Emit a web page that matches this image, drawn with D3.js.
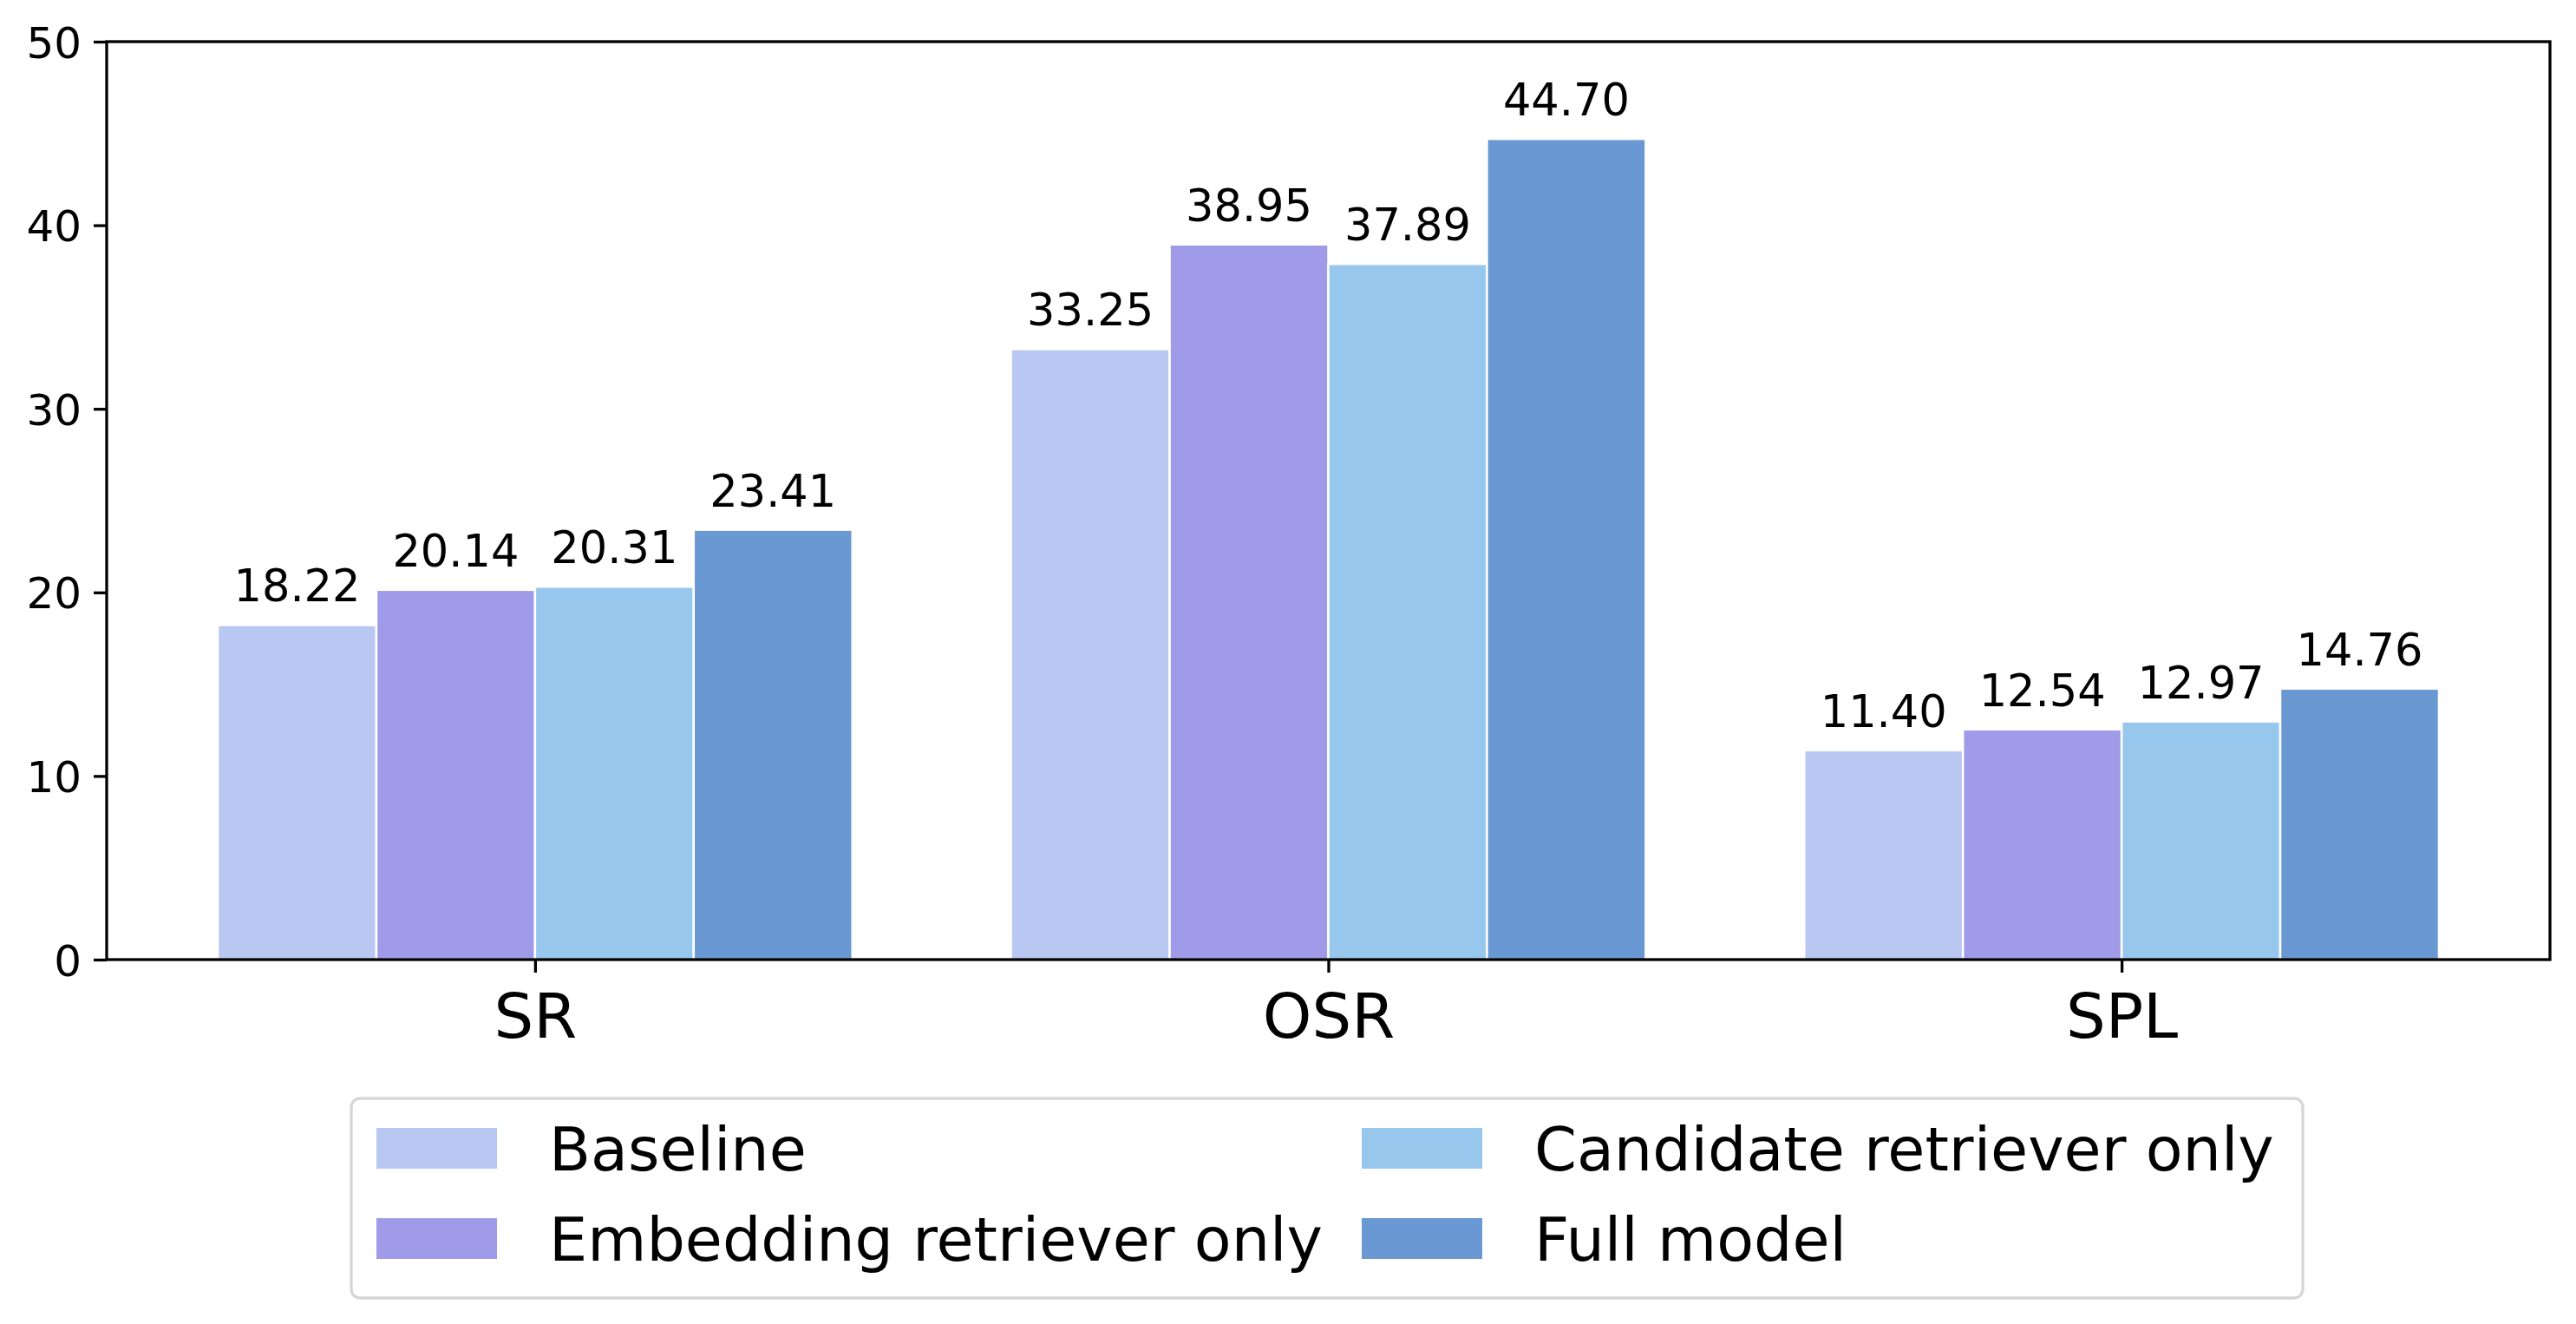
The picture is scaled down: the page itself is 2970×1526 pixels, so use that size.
<!DOCTYPE html>
<html lang="en">
    <head>
        <meta charset="utf-8">
        <title>Ablation bars</title>
        <script type="text/javascript" src="https://d3js.org/d3.v7.min.js"></script>
        <style type="text/css">
            body { margin: 0; background: #fff; }
            text { font-family: "DejaVu Sans", sans-serif; fill: #000; }
        </style>
    </head>
    <body>
        <div id="chart"></div>
        <script type="text/javascript">

            // data
            var categories = ["SR", "OSR", "SPL"];
            var seriesNames = ["Baseline", "Embedding retriever only", "Candidate retriever only", "Full model"];
            var baseline = [18.22, 33.25, 11.40];
            var embedding = [20.14, 38.95, 12.54];
            var candidate = [20.31, 37.89, 12.97];
            var fullModel = [23.41, 44.70, 14.76];
            var yTicks = [0, 10, 20, 30, 40, 50];
            var colors = ["#b9c8f2", "#9f9be8", "#97c7ed", "#6a98d3"];

            var series = [baseline, embedding, candidate, fullModel];

            // plot box in pixels (window.top is reserved, so no "top" var)
            var W = 2970, H = 1526;
            var plot = {left: 123, right: 2940, top: 48, bottom: 1106};
            var barW = 0.2;

            var svg = d3.select("#chart")
                .append("svg")
                    .attr("width", W)
                    .attr("height", H);

            // x is the category index, matplotlib style margins
            var x = d3.scaleLinear()
                .domain([-0.54, 2.54])
                .range([plot.left, plot.right]);

            var y = d3.scaleLinear()
                .domain([0, 50])
                .range([plot.bottom, plot.top]);

            // bars + value labels
            series.forEach(function(vals, j) {
                var off = (j - 1.5) * barW;
                svg.append("g")
                    .selectAll("rect")
                    .data(vals)
                    .enter().append("rect")
                        .attr("x", function(d, i) { return x(i + off - barW / 2); })
                        .attr("y", function(d) { return y(d); })
                        .attr("width", x(barW) - x(0))
                        .attr("height", function(d) { return y(0) - y(d); })
                        .attr("fill", colors[j])
                        .attr("stroke", "#fff")
                        .attr("stroke-width", 2.5);

                svg.append("g")
                    .selectAll("text")
                    .data(vals)
                    .enter().append("text")
                        .attr("x", function(d, i) { return x(i + off); })
                        .attr("y", function(d) { return y(d) - 27; })
                        .attr("text-anchor", "middle")
                        .style("font-size", "51px")
                        .text(function(d) { return d.toFixed(2); });
            });

            // Y axis
            var yAxis = svg.append("g")
                .attr("transform", "translate(" + plot.left + ",0)")
                .call(d3.axisLeft(y).tickValues(yTicks).tickSize(15).tickPadding(14).tickFormat(d3.format("d")));
            yAxis.select(".domain").remove();
            yAxis.selectAll("line").attr("stroke", "#000").attr("stroke-width", 3.3);
            yAxis.selectAll("text").style("font-size", "50px").attr("dy", "0.36em");

            // X axis
            var xAxis = svg.append("g")
                .attr("transform", "translate(0," + plot.bottom + ")")
                .call(d3.axisBottom(x).tickValues([0, 1, 2]).tickSize(15).tickPadding(20)
                    .tickFormat(function(d) { return categories[d]; }));
            xAxis.select(".domain").remove();
            xAxis.selectAll("line").attr("stroke", "#000").attr("stroke-width", 3.3);
            xAxis.selectAll("text").style("font-size", "72px").attr("dy", "0.76em");

            // frame
            svg.append("rect")
                .attr("x", plot.left)
                .attr("y", plot.top)
                .attr("width", plot.right - plot.left)
                .attr("height", plot.bottom - plot.top)
                .attr("fill", "none")
                .attr("stroke", "#000")
                .attr("stroke-width", 3.3);

            // legend
            var lg = svg.append("g");
            lg.append("rect")
                .attr("x", 405).attr("y", 1266)
                .attr("width", 2250).attr("height", 230)
                .attr("rx", 10)
                .attr("fill", "#fff")
                .attr("stroke", "#d6d6d6")
                .attr("stroke-width", 3.3);

            var colX = [434, 1570], rowY = [1300, 1404];
            seriesNames.forEach(function(name, j) {
                var c = j < 2 ? 0 : 1, r = j % 2;
                lg.append("rect")
                    .attr("x", colX[c]).attr("y", rowY[r])
                    .attr("width", 139).attr("height", 47)
                    .attr("fill", colors[j]);
                lg.append("text")
                    .attr("x", colX[c] + 199)
                    .attr("y", rowY[r] + 49)
                    .style("font-size", "70px")
                    .text(name);
            });
        </script>
    </body>
</html>
